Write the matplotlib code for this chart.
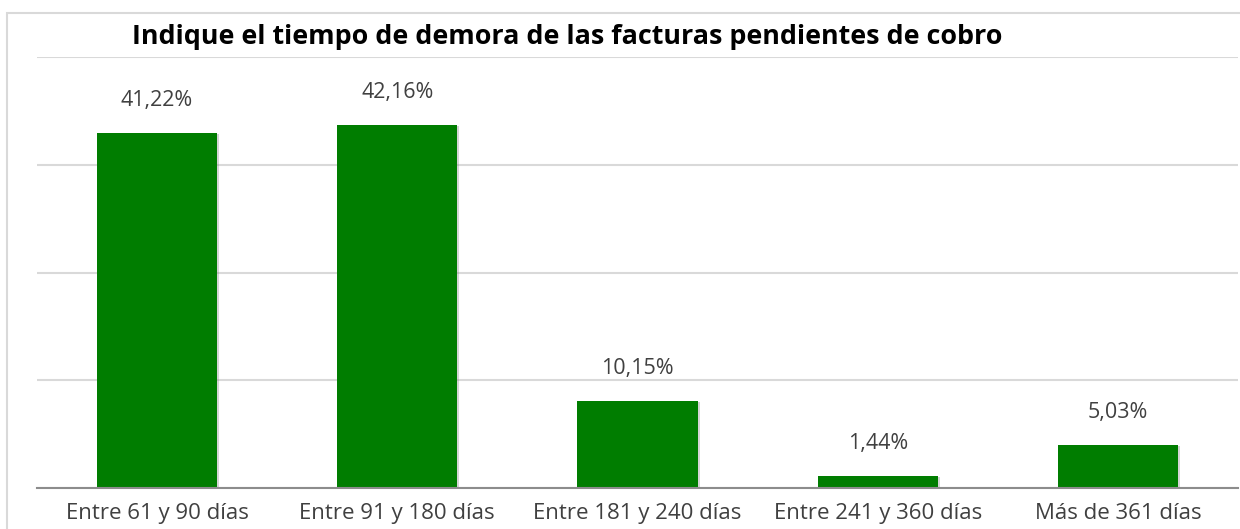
import matplotlib.pyplot as plt
import matplotlib.patheffects as pe
from matplotlib.patches import Rectangle

categories = ["Entre 61 y 90 días", "Entre 91 y 180 días", "Entre 181 y 240 días",
              "Entre 241 y 360 días", "Más de 361 días"]
values = [41.22, 42.16, 10.15, 1.44, 5.03]
labels = ["41,22%", "42,16%", "10,15%", "1,44%", "5,03%"]
title = "Indique el tiempo de demora de las facturas pendientes de cobro"

plt.rcParams['font.family'] = ['Open Sans', 'DejaVu Sans']

fig = plt.figure(figsize=(12.4, 5.29), dpi=100)
ax = fig.add_axes([37 / 1240, 41 / 529, 1201 / 1240, 431 / 529])

# outer frame of the chart area
fig.patches.append(Rectangle((7 / 1240, -0.05), 1.05, 0.05 + (1 - 13 / 529),
                             transform=fig.transFigure, fill=False,
                             edgecolor='#d9d9d9', linewidth=1.5))

x = range(len(categories))
bars = ax.bar(x, values, width=0.5, color='#007d00', zorder=3)
for b in bars:
    b.set_path_effects([pe.SimplePatchShadow(offset=(1.5, -1), shadow_rgbFace='#888888', alpha=0.35),
                        pe.Normal()])

for xi, v, lab in zip(x, values, labels):
    ax.annotate(lab, (xi, v), xytext=(0, 23), textcoords='offset points',
                ha='center', va='center', fontsize=15.5, color='#404040')

ax.set_xlim(-0.5, 4.5)
ax.set_ylim(0, 50)
ax.set_yticks([0, 12.5, 25, 37.5, 50])
ax.yaxis.grid(True, color='#d9d9d9', linewidth=1.5, zorder=0)
ax.tick_params(axis='y', left=False, labelleft=False)
ax.tick_params(axis='x', length=0, pad=11, labelsize=16, labelcolor='#404040')
ax.set_xticks(list(x))
ax.set_xticklabels(categories)
for s in ['top', 'right', 'left']:
    ax.spines[s].set_visible(False)
ax.spines['bottom'].set_color('#8c8c8c')
ax.spines['bottom'].set_linewidth(1.5)
ax.spines['bottom'].set_zorder(4)

fig.text(567 / 1240, 1 - 37 / 529, title, ha='center', va='center',
         fontsize=19.4, fontweight='bold', color='black')

plt.savefig('out.png')
